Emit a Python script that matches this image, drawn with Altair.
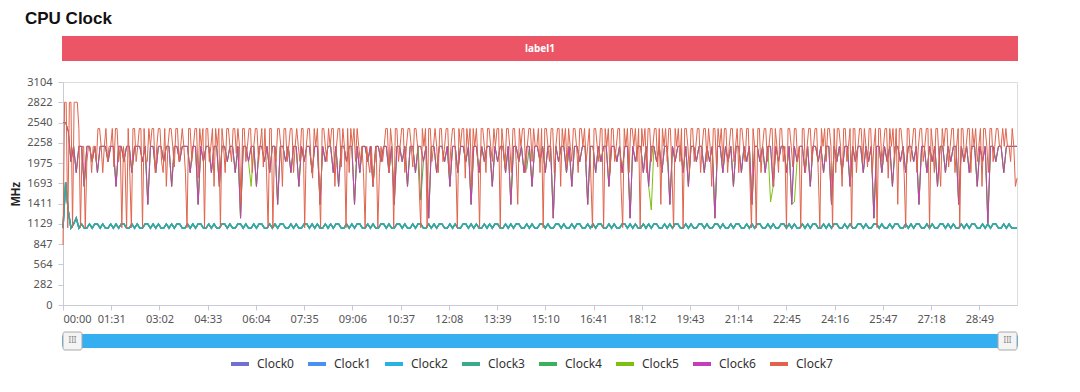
import altair as alt
import pandas as pd

# ---------------- data ----------------
# prime core (Clock7) sampled every 3 s
prime_step_s = 3
prime_mhz = [
    835, 2822, 2822, 1075, 2822, 2822, 1075, 2822, 2822, 2822, 2457, 1075, 2208, 2208, 1075, 1996, 2208, 2208, 1843, 2208,
    2208, 1996, 2457, 2457, 2208, 1843, 2208, 2457, 1996, 2208, 2208, 2457, 1920, 2457, 2457, 1996, 2208, 1075, 2208, 1996,
    1075, 2457, 1843, 1075, 2457, 2457, 1996, 2208, 2457, 2457, 1075, 2457, 1996, 1996, 2457, 2208, 2457, 2457, 1843, 2208,
    2457, 2457, 1996, 1843, 2457, 1651, 2208, 2457, 2457, 2208, 1920, 2457, 2457, 1996, 2208, 2457, 2208, 1843, 1075, 2457,
    2457, 1996, 2208, 2457, 2457, 1766, 2457, 2208, 2457, 1075, 2457, 2457, 1996, 2208, 2457, 1651, 2457, 2208, 2457, 1075,
    2457, 2208, 1843, 2457, 2457, 2208, 1996, 2457, 2457, 2112, 2457, 2208, 1401, 2457, 2457, 1996, 2208, 2457, 2457, 1843,
    2208, 2457, 2457, 1996, 2208, 2457, 1920, 2457, 1843, 1075, 2457, 2457, 1075, 2208, 1996, 2457, 2457, 2208, 1651, 2457,
    2457, 1996, 2208, 2457, 2457, 1843, 2208, 2457, 2208, 1996, 2457, 2457, 1075, 2208, 2457, 2457, 1996, 1766, 2457, 2208,
    2457, 1843, 1075, 2457, 2457, 2208, 1996, 2457, 2208, 2457, 2457, 1651, 2208, 2457, 2457, 1920, 2457, 2208, 1075, 2457,
    1843, 2457, 2208, 2457, 1996, 2457, 2208, 1996, 2208, 1843, 1075, 2208, 1996, 1843, 2208, 1651, 1996, 2208, 1075, 1843,
    2208, 1996, 2208, 2457, 2457, 1843, 2457, 2208, 1075, 2457, 2457, 1996, 2208, 2457, 2457, 1843, 2208, 2457, 2457, 2208,
    1920, 2457, 2457, 2208, 1651, 1075, 2457, 2208, 2457, 1075, 2457, 2457, 1996, 2208, 2457, 2208, 1843, 2457, 2457, 1996,
    2208, 2457, 2457, 1843, 2208, 2457, 2457, 1996, 1075, 2457, 2208, 2457, 2457, 1766, 2457, 2208, 2457, 1651, 2457, 2208,
    2457, 1996, 1075, 2457, 2457, 2208, 1843, 2457, 2457, 2208, 1996, 2457, 2208, 2457, 2457, 1075, 2457, 2208, 1920, 2457,
    2457, 2208, 1843, 2457, 2457, 1996, 1401, 2457, 2208, 2457, 2457, 1843, 2208, 2457, 2457, 1996, 2457, 2208, 2208, 2457,
    1843, 2457, 1075, 2457, 2457, 2208, 1996, 2457, 2457, 1843, 2208, 2457, 2457, 1651, 2457, 2208, 2457, 1920, 2457, 2208,
    1996, 2457, 2457, 2208, 1843, 2457, 2457, 2208, 2457, 1996, 2208, 2457, 1766, 1075, 2457, 2457, 2208, 1996, 2457, 2457,
    1075, 2457, 2208, 2457, 1843, 2457, 2457, 1996, 2208, 2457, 2457, 1651, 1075, 2457, 2208, 2457, 1843, 2457, 2457, 2208,
    2457, 1996, 2457, 1075, 2457, 2208, 2457, 1843, 2457, 2457, 1996, 2208, 2457, 2457, 1920, 2457, 1401, 2457, 2208, 2457,
    1996, 2457, 2457, 1843, 1075, 2457, 2208, 2457, 1996, 2457, 1075, 2457, 2457, 2208, 1843, 2457, 2457, 1996, 2208, 2457,
    2457, 1843, 2208, 2457, 2457, 1996, 2457, 2208, 1651, 2457, 2457, 1920, 2457, 2208, 2457, 1996, 2457, 2457, 1843, 2208,
    2457, 2457, 1996, 2208, 2457, 1843, 2457, 2457, 2208, 1996, 2457, 2457, 1766, 1075, 2457, 2208, 1075, 2457, 2457, 1843,
    2208, 2457, 2457, 1996, 2208, 2457, 2457, 1651, 2457, 2208, 1843, 2457, 2457, 1996, 2208, 1075, 2457, 2457, 2208, 1920,
    2457, 2457, 1996, 2208, 1075, 2457, 2457, 1843, 2208, 2457, 2457, 1996, 2208, 2457, 2457, 1843, 1075, 2457, 2208, 2457,
    1996, 2457, 2457, 2208, 1075, 2457, 1843, 2457, 2457, 2208, 1651, 2457, 2457, 1996, 2208, 2457, 1075, 2457, 2457, 1843,
    2208, 2457, 2457, 1996, 2457, 2208, 1920, 2457, 2457, 1843, 2208, 2457, 1075, 2457, 2457, 1996, 2208, 2457, 2457, 1766,
    2457, 2208, 2457, 1996, 2457, 1401, 2457, 2457, 2208, 1843, 1075, 2457, 2457, 1996, 2208, 2457, 2457, 1843, 2208, 2457,
    2457, 1996, 2208, 2457, 2457, 1075, 2457, 2208, 1843, 2457, 2457, 1996, 1651, 2457, 2208, 2457, 2457, 1920, 2208, 2457,
    2457, 1843, 2208, 2457, 1075, 2457, 2457, 1996, 2208, 2457, 2457, 1843, 2457, 2208, 2457, 1996, 2208, 2457, 1651, 2457,
    2457, 2208, 1843, 2457, 2457, 1996, 2208, 2457, 2457, 2208, 2208, 2457, 2208, 2457, 2208, 2208, 1996, 2457, 2208, 1651,
    1766,
]

# mid cluster (Clock4-6) and little cluster (Clock0-3) sampled every 5 s
cluster_step_s = 5
mid_mhz = [
    2540, 2540, 2419, 1996, 2208, 1843, 2208, 2208, 1651, 2208, 2208, 1996, 2208, 1843, 2208, 2208, 2208, 1996, 2208, 2208,
    1651, 2208, 2208, 1996, 2208, 2208, 1843, 2208, 2208, 2208, 1996, 2208, 1401, 2208, 2208, 1843, 2208, 2208, 1996, 2208,
    2208, 1651, 2208, 2208, 1996, 2208, 2208, 2208, 1843, 2208, 2208, 1401, 2208, 1996, 2208, 2208, 1843, 2208, 2208, 1651,
    2208, 2208, 1996, 2208, 2208, 1843, 2208, 1209, 2208, 2208, 1996, 2208, 2208, 1651, 2208, 2208, 1996, 2208, 1843, 2208,
    2208, 1401, 2208, 2208, 1996, 2208, 1843, 2208, 2208, 1651, 2208, 1996, 2208, 2208, 1843, 2208, 2208, 1401, 2208, 1996,
    2208, 2208, 1843, 2208, 1651, 2208, 2208, 1996, 2208, 2208, 1401, 2208, 1843, 2208, 2208, 1996, 2208, 1651, 2208, 2208,
    1996, 2208, 2208, 1843, 2208, 1401, 2208, 2208, 1996, 2208, 1651, 2208, 2208, 1843, 2208, 2208, 1996, 2208, 1209, 2208,
    2208, 1843, 2208, 2208, 1996, 2208, 1651, 2208, 2208, 1843, 2208, 2208, 1996, 2208, 1401, 2208, 2208, 1843, 2208, 1996,
    2208, 2208, 1651, 2208, 1996, 2208, 2208, 1843, 2208, 1401, 2208, 2208, 1996, 2208, 1843, 2208, 2208, 1651, 2208, 2208,
    1996, 2208, 1843, 2208, 2208, 1209, 2208, 1996, 2208, 2208, 1843, 2208, 1651, 2208, 2208, 1996, 2208, 2208, 1401, 2208,
    2208, 1843, 2208, 1996, 2208, 2208, 1651, 2208, 2208, 1996, 2208, 1843, 2208, 2208, 1209, 2208, 1996, 2208, 2208, 1843,
    2208, 1651, 2208, 2208, 1996, 2208, 1843, 2208, 2208, 1401, 2208, 1996, 2208, 2208, 1843, 2208, 1651, 2208, 2208, 1996,
    2208, 2208, 1843, 2208, 1996, 2208, 1209, 2208, 2208, 1843, 2208, 1996, 2208, 1651, 2208, 2208, 1843, 2208, 1996, 2208,
    1401, 2208, 2208, 1996, 2208, 1843, 2208, 2208, 1651, 2208, 1996, 2208, 2208, 1843, 2208, 1401, 2208, 1996, 2208, 2208,
    1843, 2208, 1651, 2208, 2208, 1996, 2208, 1843, 2208, 2208, 1401, 2208, 1996, 2208, 1843, 2208, 2208, 1651, 2208, 1996,
    2208, 2208, 1843, 2208, 1996, 2208, 1209, 2208, 2208, 1843, 2208, 1996, 2208, 1651, 2208, 2208, 1996, 2208, 1843, 2208,
    2208, 1996, 2208, 1401, 2208, 2208, 1843, 2208, 1996, 2208, 1651, 2208, 2208, 1843, 2208, 1996, 2208, 2208, 1401, 2208,
    1996, 2208, 1843, 2208, 2208, 1651, 2208, 1996, 2208, 1141, 2208, 2208, 1996, 2208, 2208, 1843, 2208, 2208, 2208, 2208,
    2208,
]

little_mhz = [
    1070, 1708, 1306, 1070, 1128, 1209, 1070, 1128, 1070, 1070, 1128, 1070, 1128, 1128, 1070, 1128, 1070, 1070, 1128, 1070,
    1128, 1070, 1128, 1128, 1070, 1070, 1128, 1070, 1128, 1070, 1070, 1128, 1128, 1070, 1128, 1070, 1128, 1070, 1070, 1128,
    1070, 1128, 1070, 1128, 1128, 1070, 1070, 1128, 1070, 1128, 1070, 1128, 1128, 1070, 1070, 1128, 1070, 1128, 1070, 1070,
    1128, 1128, 1070, 1128, 1070, 1070, 1128, 1128, 1070, 1128, 1070, 1070, 1128, 1070, 1128, 1128, 1070, 1070, 1128, 1070,
    1128, 1070, 1128, 1128, 1070, 1070, 1128, 1070, 1128, 1070, 1070, 1128, 1128, 1070, 1128, 1070, 1128, 1070, 1070, 1128,
    1070, 1128, 1070, 1128, 1128, 1070, 1070, 1128, 1070, 1128, 1070, 1128, 1128, 1070, 1070, 1128, 1070, 1128, 1070, 1070,
    1128, 1128, 1070, 1128, 1070, 1070, 1128, 1128, 1070, 1128, 1070, 1070, 1128, 1070, 1128, 1128, 1070, 1070, 1128, 1070,
    1128, 1070, 1128, 1128, 1070, 1070, 1128, 1070, 1128, 1070, 1070, 1128, 1128, 1070, 1128, 1070, 1128, 1070, 1070, 1128,
    1070, 1128, 1070, 1128, 1128, 1070, 1070, 1128, 1070, 1128, 1070, 1128, 1128, 1070, 1070, 1128, 1070, 1128, 1070, 1070,
    1128, 1128, 1070, 1128, 1070, 1070, 1128, 1128, 1070, 1128, 1070, 1070, 1128, 1070, 1128, 1128, 1070, 1070, 1128, 1070,
    1128, 1070, 1128, 1128, 1070, 1070, 1128, 1070, 1128, 1070, 1070, 1128, 1128, 1070, 1128, 1070, 1128, 1070, 1070, 1128,
    1070, 1128, 1070, 1128, 1128, 1070, 1070, 1128, 1070, 1128, 1070, 1128, 1128, 1070, 1070, 1128, 1070, 1128, 1070, 1070,
    1128, 1128, 1070, 1128, 1070, 1070, 1128, 1128, 1070, 1128, 1070, 1070, 1128, 1070, 1128, 1128, 1070, 1070, 1128, 1070,
    1128, 1070, 1128, 1128, 1070, 1070, 1128, 1070, 1128, 1070, 1070, 1128, 1128, 1070, 1128, 1070, 1128, 1070, 1070, 1128,
    1070, 1128, 1070, 1128, 1128, 1070, 1070, 1128, 1070, 1128, 1070, 1128, 1128, 1070, 1070, 1128, 1070, 1128, 1070, 1070,
    1128, 1128, 1070, 1128, 1070, 1070, 1128, 1128, 1070, 1128, 1070, 1070, 1128, 1070, 1128, 1128, 1070, 1070, 1128, 1070,
    1128, 1070, 1128, 1128, 1070, 1070, 1128, 1070, 1128, 1070, 1070, 1128, 1128, 1070, 1128, 1070, 1128, 1070, 1070, 1128,
    1070, 1128, 1070, 1128, 1128, 1070, 1070, 1128, 1070, 1128, 1070, 1128, 1128, 1070, 1070, 1128, 1070, 1128, 1070, 1070,
    1070,
]

# short dips of Clock4 / Clock5 that show below Clock6 (time in s, MHz)
clock4_dip_t = [675, 875]
clock4_dip_mhz = [1460, 1900]
clock5_dip_t = [355, 1110, 1335, 1380]
clock5_dip_mhz = [1651, 1322, 1434, 1434]

clock_names = ["Clock0", "Clock1", "Clock2", "Clock3", "Clock4", "Clock5", "Clock6", "Clock7"]
clock_colors = ["#6f70d2", "#4a8ff2", "#27b2e0", "#3aaa8c", "#3cb05e", "#7ebf12", "#c33fb7", "#e0644c"]

x_tick_values = [0, 91, 182, 273, 364, 455, 546, 637, 728, 819, 910,
                 1001, 1092, 1183, 1274, 1365, 1456, 1547, 1638, 1729]
x_tick_labels = ["00:00", "01:31", "03:02", "04:33", "06:04", "07:35", "09:06", "10:37", "12:08", "13:39",
                 "15:10", "16:41", "18:12", "19:43", "21:14", "22:45", "24:16", "25:47", "27:18", "28:49"]
y_tick_values = [0, 282, 564, 847, 1129, 1411, 1693, 1975, 2258, 2540, 2822, 3104]

# ---------------- table ----------------
nc = min(len(mid_mhz), len(little_mhz))
cluster_times = [i * cluster_step_s for i in range(nc)]
prime_times = [i * prime_step_s for i in range(len(prime_mhz))]

c4 = list(mid_mhz[:nc])
for t, v in zip(clock4_dip_t, clock4_dip_mhz):
    c4[t // cluster_step_s] = v
c5 = list(mid_mhz[:nc])
for t, v in zip(clock5_dip_t, clock5_dip_mhz):
    c5[t // cluster_step_s] = v

series = {
    "Clock0": (cluster_times, little_mhz[:nc]), "Clock1": (cluster_times, little_mhz[:nc]),
    "Clock2": (cluster_times, little_mhz[:nc]), "Clock3": (cluster_times, little_mhz[:nc]),
    "Clock4": (cluster_times, c4), "Clock5": (cluster_times, c5),
    "Clock6": (cluster_times, mid_mhz[:nc]), "Clock7": (prime_times, prime_mhz),
}
rows = []
for name in clock_names:
    ts, vs = series[name]
    for t, v in zip(ts, vs):
        rows.append({"t": t, "clock": name, "mhz": v})
df = pd.DataFrame(rows)

FONT = "Noto Sans"
TFONT = "Liberation Sans"
W, H = 954, 223
AX = "#c8cbd6"

label_arr = "[" + ",".join("'" + s + "'" for s in x_tick_labels) + "]"

x_enc = alt.X("t:Q", scale=alt.Scale(domain=[0, 1800], nice=False, zero=False),
              axis=alt.Axis(values=x_tick_values, labelExpr=label_arr + "[round(datum.value/91)]",
                            title=None, grid=False, tickSize=5, labelPadding=3, labelFlush=True,
                            labelFont=FONT, labelFontSize=11, labelColor="#555",
                            domainColor=AX, tickColor=AX, labelOverlap=False))
y_enc = alt.Y("mhz:Q", scale=alt.Scale(domain=[0, 3104], nice=False),
              axis=alt.Axis(values=y_tick_values, format="d", title="MHz", titleFont=TFONT, titleFontSize=12,
                            titleFontWeight="bold", titleColor="#222", titleX=-41, titleY=H / 2,
                            titleAngle=270, titleBaseline="bottom", titleAlign="center",
                            grid=False, tickSize=5, labelPadding=6,
                            labelFont=FONT, labelFontSize=11, labelColor="#555",
                            domainColor=AX, tickColor=AX))
c_enc = alt.Color("clock:N", scale=alt.Scale(domain=clock_names, range=clock_colors),
                  legend=alt.Legend(orient="none", legendX=166, legendY=271, direction="horizontal",
                                    columns=8, title=None, symbolType="stroke", symbolStrokeWidth=4,
                                    symbolSize=324, labelFont=FONT, labelFontSize=12,
                                    labelColor="#333", labelOffset=6, columnPadding=6))

little_lines = alt.Chart(df).transform_filter(
    alt.FieldOneOfPredicate(field="clock", oneOf=clock_names[:4])
).mark_line(strokeWidth=1.4).encode(x=x_enc, y=y_enc, color=c_enc, order=alt.Order("t:Q"))

other_lines = alt.Chart(df).transform_filter(
    alt.FieldOneOfPredicate(field="clock", oneOf=clock_names[4:])
).mark_line(strokeWidth=1).encode(x=x_enc, y=y_enc, color=c_enc, order=alt.Order("t:Q"))

one = pd.DataFrame({"k": [0]})

title = alt.Chart(one).mark_text(text="CPU Clock", align="left", baseline="alphabetic",
                                 fontSize=17, fontWeight="bold", font=TFONT, color="#111").encode(
    x=alt.value(-38), y=alt.value(-58))

banner = alt.Chart(one).mark_rect(color="#eb5566").encode(
    x=alt.value(-1), x2=alt.value(955), y=alt.value(-46), y2=alt.value(-21))
banner_text = alt.Chart(one).mark_text(text="label1", align="center", baseline="middle",
                                       fontSize=10, fontWeight="bold", font=FONT, color="white").encode(
    x=alt.value(477), y=alt.value(-33))

slider = alt.Chart(one).mark_rect(color="#36aff0", cornerRadius=3).encode(
    x=alt.value(-1), x2=alt.value(955), y=alt.value(252), y2=alt.value(266))
handle_l = alt.Chart(one).mark_rect(fill="#f4f4f4", stroke="#a8a8a8", strokeWidth=1, cornerRadius=2).encode(
    x=alt.value(0), x2=alt.value(19), y=alt.value(250), y2=alt.value(268))
handle_r = alt.Chart(one).mark_rect(fill="#f4f4f4", stroke="#a8a8a8", strokeWidth=1, cornerRadius=2).encode(
    x=alt.value(935), x2=alt.value(954), y=alt.value(250), y2=alt.value(268))
grip_l = alt.Chart(one).mark_text(text="III", fontSize=8, color="#888", font=FONT, baseline="middle").encode(
    x=alt.value(9.5), y=alt.value(259))
grip_r = alt.Chart(one).mark_text(text="III", fontSize=8, color="#888", font=FONT, baseline="middle").encode(
    x=alt.value(944.5), y=alt.value(259))

chart = alt.layer(
    little_lines, other_lines, title, banner, banner_text, slider, handle_l, handle_r, grip_l, grip_r
).properties(
    width=W, height=H,
    autosize=alt.AutoSizeParams(type="none"),
    padding={"left": 55, "top": 74, "right": 55, "bottom": 79},
).configure_view(stroke=None).configure(background="white")

chart.save("out.html", embed_options={"renderer": "svg", "actions": False})
